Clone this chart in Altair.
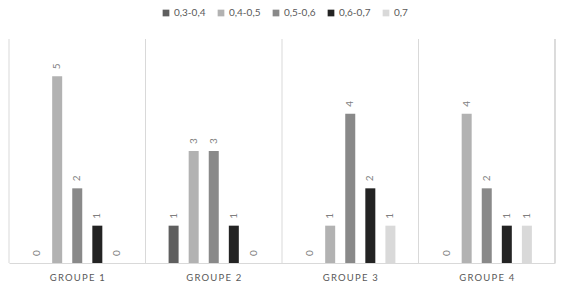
import altair as alt
import pandas as pd

groups = ["Groupe 1", "Groupe 2", "Groupe 3", "Groupe 4"]
series = ["0,3-0,4", "0,4-0,5", "0,5-0,6", "0,6-0,7", "0,7"]
v_03_04 = [0, 1, 0, 0]
v_04_05 = [5, 3, 1, 4]
v_05_06 = [2, 3, 4, 2]
v_06_07 = [1, 1, 2, 1]
v_07 = [0, 0, 1, 1]
colors = ["#5f5f5f", "#b2b2b2", "#898989", "#232323", "#d9d9d9"]

rows = []
for s, vals in zip(series, [v_03_04, v_04_05, v_05_06, v_06_07, v_07]):
    for g, v in zip(groups, vals):
        rows.append({"groupe": g, "serie": s, "valeur": v})
df = pd.DataFrame(rows)
gdf = pd.DataFrame({"groupe": groups})

W, H = 546, 224
FONT = "Lato"

xscale = alt.Scale(domain=groups, paddingInner=0, paddingOuter=0)
x = alt.X("groupe:N", sort=groups, scale=xscale,
          axis=alt.Axis(title=None, labelAngle=0, grid=False, ticks=False,
                        domainColor="#d9d9d9", labelPadding=9, labelFontSize=9.5,
                        labelColor="#595959",
                        labelExpr="join(split(upper(datum.label), ''), '\u2009')"))
xo = alt.XOffset("serie:N", sort=series,
                 scale=alt.Scale(domain=series, paddingInner=0, paddingOuter=0.9))
y = alt.Y("valeur:Q", scale=alt.Scale(domain=[0, 6]), axis=None)
color = alt.Color("serie:N", sort=series,
                  scale=alt.Scale(domain=series, range=colors),
                  legend=alt.Legend(title=None, orient="none", direction="horizontal",
                                    legendX=152, legendY=-31, symbolType="square",
                                    symbolSize=45, symbolStrokeWidth=0,
                                    labelFontSize=10, labelColor="#595959",
                                    columnPadding=10, labelOffset=3, labelLimit=0))

grid = alt.Chart(gdf).mark_rule(color="#d9d9d9", strokeWidth=1, xOffset=-W / 8).encode(
    x=x, y=alt.value(0), y2=alt.value(H))
edge = alt.Chart(gdf).mark_rule(color="#d9d9d9", strokeWidth=1).encode(
    x=alt.value(W), y=alt.value(0), y2=alt.value(H))

bars = alt.Chart(df).mark_bar(size=10).encode(x=x, xOffset=xo, y=y, color=color)
labels = alt.Chart(df).mark_text(angle=270, align="left", baseline="middle",
                                 dx=7, fontSize=10, color="#7f7f7f").encode(
    x=x, xOffset=xo, y=y, text="valeur:Q")

chart = alt.layer(grid, edge, bars, labels).properties(
    width=W, height=H,
    autosize=alt.AutoSizeParams(type="none"),
    padding={"left": 1, "top": 31, "right": 2, "bottom": 20},
).configure(font=FONT).configure_view(stroke=None)

chart.save("out.html", embed_options={"renderer": "svg", "actions": False})
